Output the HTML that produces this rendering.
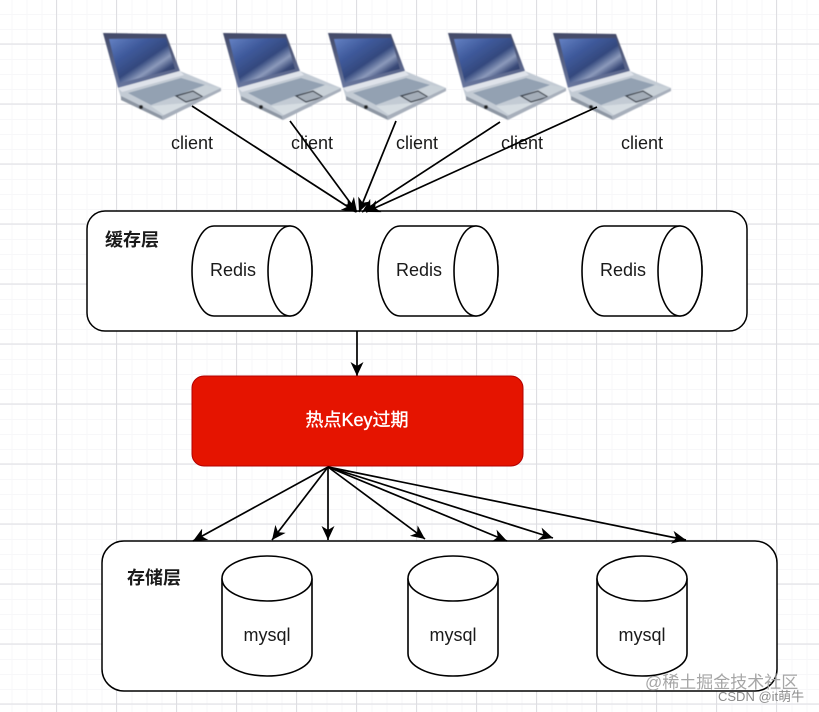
<!DOCTYPE html>
<html lang="zh">
<head>
<meta charset="utf-8">
<title>热点Key过期</title>
<style>
html,body{margin:0;padding:0;background:#fff}
svg{display:block}
text{font-family:"Liberation Sans","Noto Sans CJK SC",sans-serif;fill:#1a1a1a}
</style>
</head>
<body>
<svg width="819" height="712" viewBox="0 0 819 712" xmlns="http://www.w3.org/2000/svg">
<defs>
<pattern id="minor" width="15" height="15" patternUnits="userSpaceOnUse" x="11.5" y="14">
<path d="M0.5 0V15M0 0.5H15" stroke="#f7f7f9" stroke-width="1" fill="none"/>
</pattern>
<pattern id="major" width="60" height="60" patternUnits="userSpaceOnUse" x="56" y="43.5">
<path d="M0.5 0V60M0 0.5H60" stroke="#dedee2" stroke-width="1" fill="none"/>
</pattern>
<linearGradient id="scr" x1="0" y1="0" x2="1" y2="1">
<stop offset="0" stop-color="#6582c4"/>
<stop offset=".3" stop-color="#3f5a9c"/>
<stop offset=".52" stop-color="#34497e"/>
<stop offset=".66" stop-color="#8c9abb"/>
<stop offset=".78" stop-color="#3a4a78"/>
<stop offset="1" stop-color="#1e2a50"/>
</linearGradient>
<linearGradient id="bez" x1="0" y1="0" x2="0" y2="1">
<stop offset="0" stop-color="#434a68"/>
<stop offset="1" stop-color="#69779f"/>
</linearGradient>
<marker id="a" viewBox="-14 -7 15 14" markerUnits="userSpaceOnUse" markerWidth="15" markerHeight="14" refX="0" refY="0" orient="auto">
<path d="M-14,-6.5 L0,0 L-14,6.5 L-10,0 Z" fill="#000"/>
</marker>
<filter id="soft" x="-5%" y="-5%" width="110%" height="110%"><feGaussianBlur stdDeviation="0.45"/></filter>
<g id="lap" filter="url(#soft)">
<path d="M1,1 L64,2 L78,39 L16,56 Z" fill="url(#bez)"/>
<path d="M7,7 L64,6 L73,37 L18,51 Z" fill="url(#scr)"/>
<path d="M16,56 L78,39 L119,56 L60,86 L19,66 Z" fill="#c3cbd4"/>
<path d="M16,56 L78,39 L82,43 L20,60 Z" fill="#dfe3ea"/>
<path d="M26,61 L79,46 L103,53 L49,73 Z" fill="#93a1b2"/>
<path d="M103,53 L119,56 L101,65 L92,59 Z" fill="#c9d1d8"/>
<path d="M49,74 L84,71 L91,74 L63,84 Z" fill="#d6dde2"/>
<path d="M74,64 L91,59 L101,65 L84,70 Z" fill="#a4adb8" stroke="#2f3640" stroke-width="1.2"/>
<path d="M19,64 L60,84 L61,88 L19,68 Z" fill="#8d96a3"/>
<path d="M60,84 L119,56 L119,59 L61,88 Z" fill="#a7afbb"/>
<circle cx="39" cy="75" r="2" fill="#222"/>
</g>
</defs>

<rect width="819" height="712" fill="#fff"/>
<rect width="819" height="712" fill="url(#minor)"/>
<rect width="819" height="712" fill="url(#major)"/>

<use href="#lap" x="102" y="32"/>
<use href="#lap" x="222" y="32"/>
<use href="#lap" x="327" y="32"/>
<use href="#lap" x="447" y="32"/>
<use href="#lap" x="552" y="32"/>

<g font-size="18" text-anchor="middle">
<text x="192" y="149">client</text>
<text x="312" y="149">client</text>
<text x="417" y="149">client</text>
<text x="522" y="149">client</text>
<text x="642" y="149">client</text>
</g>

<rect x="87" y="211" width="660" height="120" rx="18" ry="18" fill="#fff" stroke="#000" stroke-width="1.5"/>
<text x="105" y="246" font-size="18" font-weight="bold">缓存层</text>

<g fill="#fff" stroke="#000" stroke-width="1.6">
<path d="M214,226H290A22,45 0 0 1 290,316H214A22,45 0 0 1 214,226Z"/>
<ellipse cx="290" cy="271" rx="22" ry="45"/>
<path d="M400,226H476A22,45 0 0 1 476,316H400A22,45 0 0 1 400,226Z"/>
<ellipse cx="476" cy="271" rx="22" ry="45"/>
<path d="M604,226H680A22,45 0 0 1 680,316H604A22,45 0 0 1 604,226Z"/>
<ellipse cx="680" cy="271" rx="22" ry="45"/>
</g>
<g font-size="18" text-anchor="middle">
<text x="233" y="276">Redis</text>
<text x="419" y="276">Redis</text>
<text x="623" y="276">Redis</text>
</g>

<g stroke="#000" stroke-width="1.7" fill="none">
<path d="M192,106L356,212" marker-end="url(#a)"/>
<path d="M290,121L357,212" marker-end="url(#a)"/>
<path d="M396,121L359,212" marker-end="url(#a)"/>
<path d="M500,122L362,212" marker-end="url(#a)"/>
<path d="M597,107L366,212" marker-end="url(#a)"/>
<path d="M357,331V376" marker-end="url(#a)"/>
</g>

<rect x="192" y="376" width="331" height="90" rx="12" ry="12" fill="#e51400" stroke="#b20000" stroke-width="1"/>
<text x="357" y="426" font-size="18" text-anchor="middle" style="fill:#fff;stroke:#fff;stroke-width:.35">热点Key过期</text>

<rect x="102" y="541" width="675" height="150" rx="22" ry="22" fill="#fff" stroke="#000" stroke-width="1.5"/>
<text x="127" y="584" font-size="18" font-weight="bold">存储层</text>

<g stroke="#000" stroke-width="1.7" fill="none">
<path d="M328,467L193,541" marker-end="url(#a)"/>
<path d="M328,467L272,540" marker-end="url(#a)"/>
<path d="M328,467V540" marker-end="url(#a)"/>
<path d="M328,467L425,539" marker-end="url(#a)"/>
<path d="M328,467L507,541" marker-end="url(#a)"/>
<path d="M328,467L553,538" marker-end="url(#a)"/>
<path d="M328,467L686,540" marker-end="url(#a)"/>
</g>

<g fill="#fff" stroke="#000" stroke-width="1.6">
<path d="M222,578.5A45,22.5 0 0 1 312,578.5V653.5A45,22.5 0 0 1 222,653.5Z"/>
<path d="M222,578.5A45,22.5 0 0 0 312,578.5"/>
<path d="M408,578.5A45,22.5 0 0 1 498,578.5V653.5A45,22.5 0 0 1 408,653.5Z"/>
<path d="M408,578.5A45,22.5 0 0 0 498,578.5"/>
<path d="M597,578.5A45,22.5 0 0 1 687,578.5V653.5A45,22.5 0 0 1 597,653.5Z"/>
<path d="M597,578.5A45,22.5 0 0 0 687,578.5"/>
</g>
<g font-size="18" text-anchor="middle">
<text x="267" y="641">mysql</text>
<text x="453" y="641">mysql</text>
<text x="642" y="641">mysql</text>
</g>

<text x="645" y="688" font-size="17" style="fill:#a6a6a6">@稀土掘金技术社区</text>
<text x="718" y="701" font-size="13" style="fill:#8c8c8c">CSDN @it萌牛</text>
</svg>
</body>
</html>
